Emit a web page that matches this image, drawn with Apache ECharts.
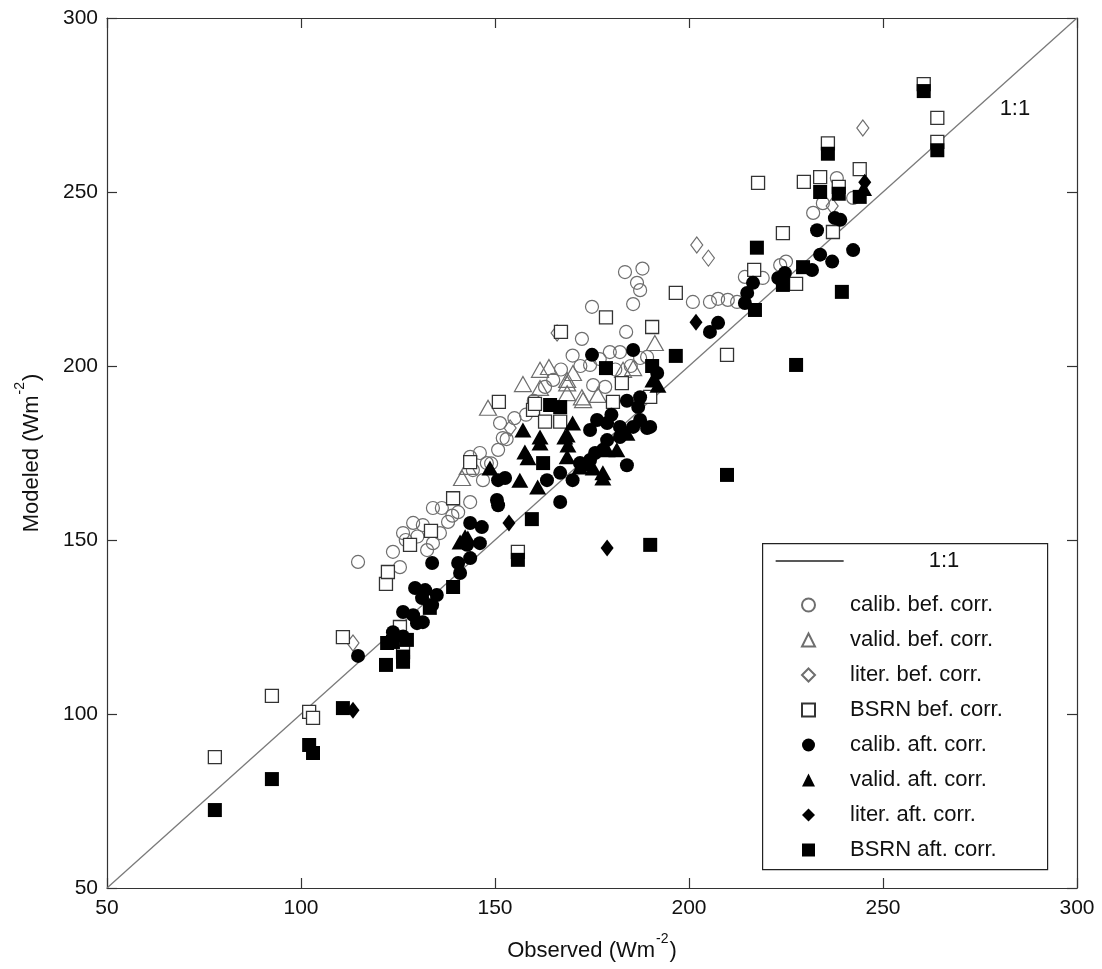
<!DOCTYPE html>
<html>
<head>
<meta charset="utf-8">
<script src="https://cdn.jsdelivr.net/npm/echarts@6/dist/echarts.min.js"></script>
<style>html,body{margin:0;padding:0;background:#fff}#c{width:1102px;height:969px}</style>
</head>
<body>
<div id="c"></div>
<script>
// ---------------- data ----------------
var axisTicks = [50, 100, 150, 200, 250, 300];
var oneToOne = [[50, 50], [300, 300]];
var oneToOneLabelAt = [284, 274];

var calibBef = [
[114.7,143.7],[123.7,146.6],[125.5,142.2],[126.3,152],[127,150],[128.9,154.9],[130,151],[131.4,154.3],[132.5,147.1],[134,149.1],[135.8,152],[134,159.2],[136.3,159.2],[137.9,155.2],[139,157],[140.5,158],[143.6,160.9],
[143.6,173.9],[144.3,170.1],[146.1,175],[146.9,167.2],[147.9,172.1],[149,172],[150.8,175.9],[152,179.3],[151.3,183.6],[153,179],[155,185],
[158,186],[160,190],[162.9,194],[165,196],[167,199],[170,203],[172,200],[172.4,207.8],[174.5,200.3],[175.3,194.5],[177,202],[178.4,194],[179.6,204],[181,199],[182.2,204],[185,200],[187.4,202.3],[189.2,202.6],[175,217],[183.8,209.8],[185.6,217.8],[183.5,227],[186.6,223.9],[187.4,221.8],[188,228],
[201,218.4],[205.4,218.4],[207.5,219.3],[210,219],[212.4,218.4],[214.4,225.6],[219,225.3],[223.5,229],[225,230],[232,244],[234.5,246.8],[238.1,254.0],[242.3,248.3]
];
var validBef = [
[141.5,167.8],[143,171],[148.2,188],[157.2,194.8],[161.6,193.7],[161.6,198.9],[163.9,199.7],[168.6,196],[168.6,192.2],[170.1,198],[172.4,191],[172.7,190.2],[176.5,191.7],[183,198.9],[185.6,199.4],[191.2,206.6],[168.6,195]
];
var literBef = [
[113.4,120.4],[153.9,182.2],[166,209.5],[202,234.8],[205,231],[236.9,246],[244.8,268.4]
];
var bsrnBef = [
[77.8,87.6],[92.5,105.2],[102.1,100.6],[103.1,98.9],[110.8,122.1],[121.9,137.4],[122.4,140.8],[125.5,125],[126.3,117.8],[128.1,148.6],[133.5,152.6],[139.2,162],[143.6,172.4],[151,189.7],[155.9,146.6],[159.8,187.4],[160.3,189.1],[162.9,184],[166.8,184],[167,209.8],[178.6,214],[180.4,189.7],[182.7,195.1],[190,191.1],[190.5,211.2],[196.6,221],[209.8,203.2],[216.8,227.6],[217.8,252.6],[224.2,238.2],[227.6,223.6],[229.6,252.9],[233.8,254.3],[235.8,264],[237.1,238.5],[238.6,251.5],[244,256.6],[260.5,281],[264,271.3],[264,264.4]
];
var calibAft = [
[114.7,116.7],[123.7,123.5],[126.3,122.3],[126.3,129.3],[128.9,128.4],[129.9,126.1],[131.4,126.4],[129.4,136.2],[131.2,133.3],[132,135.6],[133.8,131.3],[135,134.2],[133.8,143.4],[140.5,143.4],[141,140.5],[143.6,144.8],[142.8,148.6],[146.1,149.1],[143.6,154.9],[146.6,153.7],
[150.5,161.5],[150.8,160],[150.8,167.2],[152.6,167.8],[163.4,167.2],[166.8,160.9],[166.8,169.3],[170,167.2],[171.9,172.1],[174.5,173],[184,171.5],
[174.5,181.6],[175.8,175],[176.3,184.5],[177.8,175.9],[178.9,183.6],[178.9,178.7],[180,186],[182.2,182.5],[182.2,179.6],[184,190],[185.6,182.5],[186.9,188.2],[187.4,184.5],[187.4,191],[189.2,182.2],[190,182.5],[191.8,198],[175,203.2],[185.6,204.6],
[205.4,209.8],[207.5,212.4],[214.4,218.1],[215,221],[216.5,223.9],[223,225.3],[224.7,226.7],[231.7,227.6],[233.8,232],[236.9,230],[242.3,233.3],[233,239],[237.6,242.5],[239,242]
];
var validAft = [
[141,149.4],[142.3,150.9],[143,150.6],[148.7,170.7],[156.4,167.2],[157.2,181.6],[157.7,175.3],[158.5,173.6],[161,165.2],[161.6,177.9],[161.6,179.6],[168,179.6],[168.6,173.9],[168.6,180.2],[168.8,177.3],[170,183.6],[171.9,171],[173.7,172],[175.3,170.7],[177.8,167.8],[177.8,169.3],[178.9,175.9],[181.4,175.9],[184,180.7],[190.7,196],[192,194.5],[245,251]
];
var literAft = [
[113.4,101.1],[153.6,154.9],[178.9,147.7],[201.8,212.6],[245.3,252.8]
];
var bsrnAft = [
[77.8,72.4],[92.5,81.3],[102.1,91.1],[103.1,88.8],[110.8,101.7],[121.9,114.1],[122.2,120.4],[123.7,120.7],[126.3,115],[126.3,116.5],[127.3,121.3],[133.2,130.5],[139.2,136.5],[155.9,144.3],[159.5,156],[162.4,172.1],[164.2,188.8],[166.8,188.2],[178.6,199.4],[190.5,200],[190,148.6],[196.6,202.9],[209.8,168.7],[227.6,200.3],[217,216.1],[224.2,223.3],[229.4,228.4],[217.5,234],[239.4,221.3],[233.8,250],[238.6,249.5],[244,248.6],[235.8,261],[260.5,279],[264,262]
];

var names = ['calib. bef. corr.','valid. bef. corr.','liter. bef. corr.','BSRN bef. corr.',
             'calib. aft. corr.','valid. aft. corr.','liter. aft. corr.','BSRN aft. corr.'];

// ---------------- chart ----------------
var FONT = '"Liberation Sans", Arial, sans-serif';
var NARROW = '"Liberation Sans Narrow", "Liberation Sans", Arial, sans-serif';
var chart = echarts.init(document.getElementById('c'), null, {renderer: 'canvas'});

function axisCommon(pos, showLabel) {
  return {
    type: 'value', min: axisTicks[0], max: axisTicks[axisTicks.length - 1], interval: 50,
    position: pos,
    axisLine: {show: true, onZero: false, lineStyle: {color: '#333', width: 1.2}},
    axisTick: {show: true, inside: true, length: 10, lineStyle: {color: '#333', width: 1.2}},
    splitLine: {show: false},
    axisLabel: {show: showLabel, color: '#111', fontSize: 21, fontFamily: FONT},
  };
}
var xMain = axisCommon('bottom', true);
xMain.axisLabel.margin = 10;
xMain.name = '{a|Observed (Wm}{s|-2}{a|)}';
xMain.nameLocation = 'middle';
xMain.nameGap = 44;
xMain.nameTextStyle = {rich: {
  a: {fontSize: 22, fontFamily: NARROW, color: '#111', verticalAlign: 'bottom', lineHeight: 30},
  s: {fontSize: 14, fontFamily: NARROW, color: '#111', verticalAlign: 'top', lineHeight: 30, padding: [0, 1, 0, 1]}
}};
var xTop = axisCommon('top', false);
var yMain = axisCommon('left', true);
yMain.axisLabel.margin = 9;
yMain.name = '{a|Modeled (Wm}{s|-2}{a|)}';
yMain.nameLocation = 'middle';
yMain.nameGap = 64;
yMain.nameRotate = 90;
yMain.nameTextStyle = {rich: {
  a: {fontSize: 22, fontFamily: NARROW, color: '#111', verticalAlign: 'bottom', lineHeight: 30},
  s: {fontSize: 14, fontFamily: NARROW, color: '#111', verticalAlign: 'top', lineHeight: 30, padding: [0, 1, 0, 1]}
}};
var yRight = axisCommon('right', false);

var openGray = '#6e6e6e';
var styles = [
  {symbol: 'circle', size: 13, item: {color: 'rgba(255,255,255,0)', borderColor: openGray, borderWidth: 1.2, opacity: 1}},
  {symbol: 'triangle', size: [17, 15], item: {color: 'rgba(255,255,255,0)', borderColor: openGray, borderWidth: 1.2, opacity: 1}},
  {symbol: 'diamond', size: [12, 16], item: {color: 'rgba(255,255,255,0)', borderColor: openGray, borderWidth: 1.2, opacity: 1}},
  {symbol: 'rect', size: 13, item: {color: '#fff', borderColor: '#333', borderWidth: 1.3, opacity: 1}},
  {symbol: 'circle', size: 14, item: {color: '#000', opacity: 1}},
  {symbol: 'triangle', size: [17, 15], item: {color: '#000', opacity: 1}},
  {symbol: 'diamond', size: [13, 17], item: {color: '#000', opacity: 1}},
  {symbol: 'rect', size: 14, item: {color: '#000', opacity: 1}}
];
var datas = [calibBef, validBef, literBef, bsrnBef, calibAft, validAft, literAft, bsrnAft];

var series = [{
  name: '1:1', type: 'line', data: oneToOne, symbol: 'none', silent: true,
  lineStyle: {color: '#7a7a7a', width: 1.3}, itemStyle: {color: '#333'}, z: 1,
  markPoint: {
    symbol: 'circle', symbolSize: 0,
    label: {show: true, position: 'inside', formatter: '1:1', color: '#111', fontSize: 22, fontFamily: FONT},
    data: [{coord: oneToOneLabelAt}]
  }
}];
for (var i = 0; i < 8; i++) {
  series.push({
    name: names[i], type: 'scatter', data: datas[i], symbol: styles[i].symbol,
    symbolSize: styles[i].size, itemStyle: styles[i].item, z: 2 + i,
    emphasis: {disabled: true}
  });
}

var legendText = {color: '#111', fontSize: 22, fontFamily: FONT, lineHeight: 26};
chart.setOption({
  animation: false,
  backgroundColor: '#fff',
  grid: {left: 107, right: 25, top: 18, bottom: 81},
  xAxis: [xMain, xTop],
  yAxis: [yMain, yRight],
  graphic: [{
    type: 'rect', z: 3, left: 762, top: 543,
    shape: {width: 285, height: 326},
    style: {fill: '#fff', stroke: '#222', lineWidth: 1.2}
  }],
  legend: [{
    z: 6, orient: 'vertical', left: 775, top: 548, padding: 0,
    itemWidth: 68, itemHeight: 14, selectedMode: false,
    itemStyle: {color: 'rgba(0,0,0,0)', borderWidth: 0, opacity: 0},
    lineStyle: {color: '#222', width: 1.3, opacity: 1},
    data: ['1:1'],
    textStyle: Object.assign({padding: [0, 0, 0, 80]}, legendText)
  }, {
    z: 6, orient: 'vertical', left: 801, top: 592, padding: 0,
    itemWidth: 13, itemHeight: 13, itemGap: 9, selectedMode: false,
    data: names,
    textStyle: Object.assign({padding: [0, 0, 0, 30]}, legendText)
  }],
  series: series
});
</script>
</body>
</html>
